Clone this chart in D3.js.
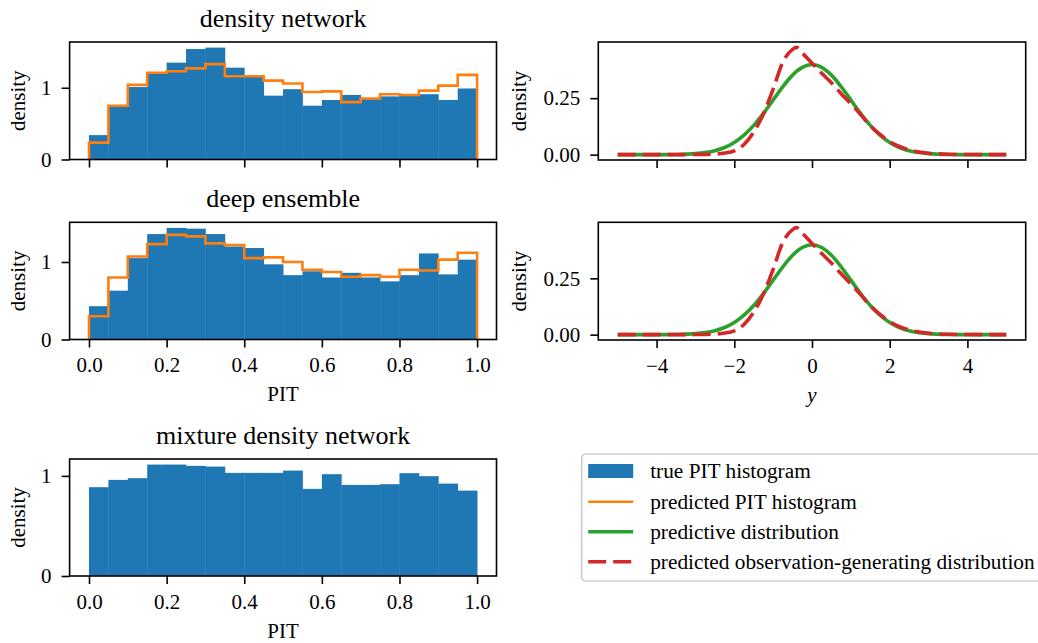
<!DOCTYPE html>
<html>
<head>
<meta charset="utf-8">
<script src="https://cdn.jsdelivr.net/npm/d3@7"></script>
<style>
  body { margin: 0; background: #fff; }
  svg { font-family: "Liberation Serif", "Times New Roman", serif; }
  .axis path, .axis line { stroke: #000; stroke-width: 1.6px; }
  .axis text { font-size: 21px; fill: #000; font-family: "Liberation Serif", serif; }
</style>
</head>
<body>
<div id="chart"></div>
<script>
// PIT histogram bin edges (20 bins)
const binEdges = [0, 0.05, 0.1, 0.15, 0.2, 0.25, 0.3, 0.35, 0.4, 0.45, 0.5,
                  0.55, 0.6, 0.65, 0.7, 0.75, 0.8, 0.85, 0.9, 0.95, 1.0];

// density network
const dnTrue = [0.34, 0.74, 1.01, 1.22, 1.35, 1.54, 1.56, 1.28, 1.16, 0.89,
                0.98, 0.75, 0.83, 0.90, 0.84, 0.88, 0.89, 0.91, 0.83, 0.99];
const dnPred = [0.235, 0.75, 1.04, 1.21, 1.23, 1.27, 1.33, 1.16, 1.16, 1.10,
                1.06, 0.94, 0.95, 0.80, 0.85, 0.91, 0.90, 0.96, 1.03, 1.18];

// deep ensemble
const deTrue = [0.43, 0.63, 1.05, 1.36, 1.44, 1.43, 1.36, 1.20, 1.18, 0.97,
                0.83, 0.88, 0.80, 0.86, 0.80, 0.75, 0.83, 1.11, 0.84, 1.03];
const dePred = [0.30, 0.80, 1.07, 1.23, 1.35, 1.33, 1.24, 1.22, 1.05, 1.06,
                1.00, 0.90, 0.87, 0.81, 0.83, 0.81, 0.90, 0.89, 1.03, 1.12];

// mixture density network
const mdnTrue = [0.887, 0.96, 0.977, 1.113, 1.113, 1.10, 1.093, 1.03, 1.03, 1.03,
                 1.053, 0.87, 1.017, 0.91, 0.91, 0.917, 1.027, 0.997, 0.923, 0.853];

// predictive densities
const yGrid = [-5, -4.5, -4, -3.5, -3, -2.75, -2.5, -2.25, -2, -1.75, -1.5, -1.25, -1,
               -0.75, -0.5, -0.4, -0.25, 0, 0.25, 0.5, 0.75, 1, 1.25, 1.5, 1.75, 2,
               2.25, 2.5, 2.75, 3, 3.5, 4, 4.5, 5];
const predictive = [0, 0.00002, 0.0001, 0.0009, 0.0044, 0.0091, 0.0175, 0.0317, 0.054,
                    0.0863, 0.1295, 0.1826, 0.242, 0.3011, 0.3521, 0.3683, 0.3867, 0.3989,
                    0.3867, 0.3521, 0.3011, 0.242, 0.1826, 0.1295, 0.0863, 0.054, 0.0317,
                    0.0175, 0.0091, 0.0044, 0.0009, 0.0001, 0.00002, 0];
const obsGen = [0, 0, 0, 0.0001, 0.0004, 0.001, 0.0025, 0.007, 0.017, 0.045, 0.10,
                0.18, 0.29, 0.41, 0.466, 0.475, 0.45, 0.405, 0.36, 0.318, 0.27, 0.225,
                0.178, 0.128, 0.09, 0.058, 0.036, 0.021, 0.012, 0.0065, 0.0017,
                0.0004, 0.0001, 0];

const histTicks = [0, 0.2, 0.4, 0.6, 0.8, 1.0];
const yTicks = [-4, -2, 0, 2, 4];
const densTicks = [0, 0.25];

const legendItems = ["true PIT histogram", "predicted PIT histogram",
                     "predictive distribution", "predicted observation-generating distribution"];

const colors = {blue: "#1f77b4", orange: "#ff7f0e", green: "#2ca02c", red: "#d62728"};

const W = 1038, H = 643;
const svg = d3.select("#chart").append("svg")
    .attr("width", W)
    .attr("height", H);

const leftX = [69.6, 496.5];
const rightX = [598.3, 1025.7];
const rows = [[42, 159.5], [222.3, 339.5], [459, 576]];

function yLabel(g, x, y0, y1, txt) {
    g.append("text")
        .attr("transform", "translate(" + x + "," + ((y0 + y1) / 2) + ") rotate(-90)")
        .attr("text-anchor", "middle")
        .style("font-size", "21px")
        .text(txt);
}

function histPanel(row, title, trueVals, predVals, showX) {
    let top = rows[row][0], bottom = rows[row][1];
    let g = svg.append("g");

    let x = d3.scaleLinear().domain([-0.05, 1.05]).range(leftX);
    let maxV = d3.max(trueVals.concat(predVals || []));
    let y = d3.scaleLinear().domain([0, maxV * 1.05]).range([bottom, top]);

    // bars
    g.selectAll(".bar")
        .data(trueVals)
        .enter()
        .append("rect")
        .attr("class", "bar")
        .attr("x", (d, i) => x(binEdges[i]))
        .attr("width", (d, i) => x(binEdges[i + 1]) - x(binEdges[i]) + 0.4)
        .attr("y", d => y(d))
        .attr("height", d => y(0) - y(d))
        .attr("fill", colors.blue);

    // predicted step line
    if (predVals) {
        let pts = [[binEdges[0], 0]];
        predVals.forEach((v, i) => pts.push([binEdges[i], v]));
        pts.push([binEdges[binEdges.length - 1], predVals[predVals.length - 1]]);
        pts.push([binEdges[binEdges.length - 1], 0]);
        g.append("path")
            .datum(pts)
            .attr("fill", "none")
            .attr("stroke", colors.orange)
            .attr("stroke-width", 2.6)
            .attr("d", d3.line().x(d => x(d[0])).y(d => y(d[1])).curve(d3.curveStepAfter));
    }

    // frame
    g.append("rect")
        .attr("x", leftX[0]).attr("y", top)
        .attr("width", leftX[1] - leftX[0]).attr("height", bottom - top)
        .attr("fill", "none").attr("stroke", "#000").attr("stroke-width", 1.6);

    let xAxis = d3.axisBottom(x).tickValues(histTicks).tickSize(8).tickPadding(10)
        .tickFormat(showX ? d3.format(".1f") : "");
    g.append("g").attr("class", "axis")
        .attr("transform", "translate(0," + bottom + ")")
        .call(xAxis)
        .call(a => a.select(".domain").remove());

    let yAxis = d3.axisLeft(y).tickValues([0, 1]).tickSize(8).tickPadding(10)
        .tickFormat(d3.format("d"));
    g.append("g").attr("class", "axis")
        .attr("transform", "translate(" + leftX[0] + ",0)")
        .call(yAxis)
        .call(a => a.select(".domain").remove());

    g.append("text")
        .attr("x", (leftX[0] + leftX[1]) / 2)
        .attr("y", top - 15)
        .attr("text-anchor", "middle")
        .style("font-size", "26px")
        .text(title);

    yLabel(g, 25, top, bottom, "density");

    if (showX) {
        g.append("text")
            .attr("x", (leftX[0] + leftX[1]) / 2)
            .attr("y", bottom + 61.5)
            .attr("text-anchor", "middle")
            .style("font-size", "21px")
            .text("PIT");
    }
}

function densityPanel(row, showX) {
    let top = rows[row][0], bottom = rows[row][1] + 0.5;
    let g = svg.append("g");

    let x = d3.scaleLinear().domain([-5.5, 5.5]).range(rightX);
    let maxV = d3.max(predictive.concat(obsGen));
    let y = d3.scaleLinear().domain([-0.05 * maxV, maxV * 1.05]).range([bottom, top]);

    let line = d3.line().x((d, i) => x(yGrid[i])).y(d => y(d)).curve(d3.curveMonotoneX);

    g.append("path")
        .datum(predictive)
        .attr("fill", "none")
        .attr("stroke", colors.green)
        .attr("stroke-width", 3.6)
        .attr("d", line);

    g.append("path")
        .datum(obsGen)
        .attr("fill", "none")
        .attr("stroke", colors.red)
        .attr("stroke-width", 3.6)
        .attr("stroke-dasharray", "18,7")
        .attr("d", line);

    g.append("rect")
        .attr("x", rightX[0]).attr("y", top)
        .attr("width", rightX[1] - rightX[0]).attr("height", bottom - top)
        .attr("fill", "none").attr("stroke", "#000").attr("stroke-width", 1.6);

    let xAxis = d3.axisBottom(x).tickValues(yTicks).tickSize(8).tickPadding(10)
        .tickFormat(showX ? d3.format("d") : "");
    g.append("g").attr("class", "axis")
        .attr("transform", "translate(0," + bottom + ")")
        .call(xAxis)
        .call(a => a.select(".domain").remove());

    let yAxis = d3.axisLeft(y).tickValues(densTicks).tickSize(8).tickPadding(10)
        .tickFormat(d3.format(".2f"));
    g.append("g").attr("class", "axis")
        .attr("transform", "translate(" + rightX[0] + ",0)")
        .call(yAxis)
        .call(a => a.select(".domain").remove());

    yLabel(g, 526, top, bottom, "density");

    if (showX) {
        g.append("text")
            .attr("x", x(0))
            .attr("y", bottom + 62)
            .attr("text-anchor", "middle")
            .style("font-size", "21px")
            .style("font-style", "italic")
            .text("y");
    }
}

histPanel(0, "density network", dnTrue, dnPred, false);
histPanel(1, "deep ensemble", deTrue, dePred, true);
histPanel(2, "mixture density network", mdnTrue, null, true);
densityPanel(0, false);
densityPanel(1, true);

// legend
let leg = svg.append("g").attr("transform", "translate(581.7,454)");
leg.append("rect")
    .attr("width", 470).attr("height", 127).attr("rx", 4)
    .attr("fill", "#fff").attr("fill-opacity", 0.8)
    .attr("stroke", "#d0d0d0").attr("stroke-width", 1.7);

let rowY = [17, 47.7, 77.7, 107.7];
legendItems.forEach((txt, i) => {
    let ry = rowY[i];
    if (i === 0) {
        leg.append("rect").attr("x", 6.5).attr("y", ry - 7).attr("width", 45).attr("height", 14)
            .attr("fill", colors.blue);
    } else {
        let c = [null, colors.orange, colors.green, colors.red][i];
        leg.append("line")
            .attr("x1", 6.5).attr("x2", 51.5).attr("y1", ry).attr("y2", ry)
            .attr("stroke", c)
            .attr("stroke-width", i === 1 ? 2.6 : 3.6)
            .attr("stroke-dasharray", i === 3 ? "18,7" : null);
    }
    leg.append("text")
        .attr("x", 68.5)
        .attr("y", ry + 7)
        .style("font-size", "21.3px")
        .text(txt);
});
</script>
</body>
</html>
